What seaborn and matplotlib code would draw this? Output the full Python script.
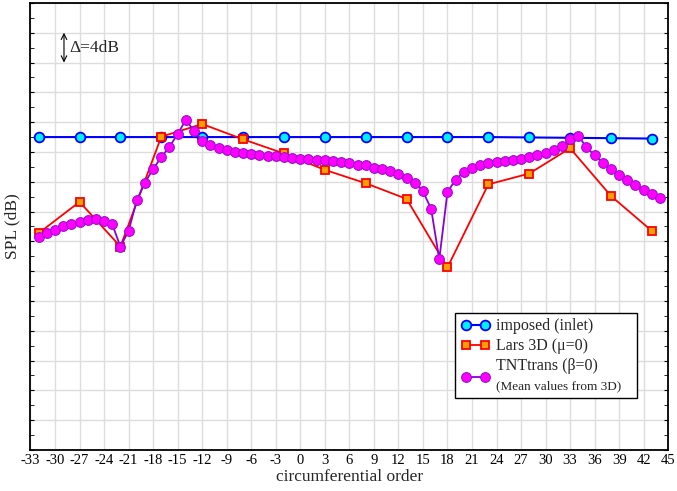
import numpy as np
import matplotlib
matplotlib.use("Agg")
import matplotlib.pyplot as plt
import seaborn as sns
from matplotlib.lines import Line2D
from matplotlib.legend_handler import HandlerLine2D

# circumferential orders and SPL values (dB)
imposed_x = [-32, -27, -22, -17, -12, -7, -2, 3, 8, 13, 18, 23, 28, 33, 38, 43]
imposed_y = [42.0, 42.0, 42.0, 42.0, 42.0, 42.0, 42.0, 42.0, 42.0, 42.0, 42.0,
             42.0, 41.95, 41.9, 41.85, 41.8]

lars_x = [-32, -27, -22, -17, -12, -7, -2, 3, 8, 13, 18, 23, 28, 33, 38, 43]
lars_y = [29.1, 33.3, 27.3, 42.05, 43.75, 41.7, 39.8, 37.6, 35.8, 33.7, 24.5,
          35.65, 37.1, 40.5, 34.1, 29.4]

tnt_x = list(range(-32, 45))
tnt_y = [28.6, 29.1, 29.5, 30.0, 30.3, 30.6, 30.9, 31.0, 30.8, 30.3,   # -32..-23
         27.3, 29.4, 33.5, 35.9, 37.7, 39.3, 40.7, 42.4, 44.3, 42.85,  # -22..-13
         41.5, 40.9, 40.5, 40.2, 39.95, 39.8, 39.7, 39.6, 39.5, 39.4,  # -12..-3
         39.3, 39.2, 39.1, 39.05, 38.95, 38.9, 38.75, 38.7, 38.5, 38.3,  # -2..7
         38.2, 37.9, 37.7, 37.45, 37.1, 36.55, 35.9, 34.7, 32.4, 25.6,  # 8..17
         34.6, 36.3, 37.3, 37.8, 38.25, 38.5, 38.6, 38.8, 38.95, 39.1,  # 18..27
         39.35, 39.55, 39.8, 40.2, 40.85, 41.7, 42.2, 40.6, 39.55, 38.55,  # 28..37
         37.7, 36.95, 36.2, 35.6, 34.9, 34.35, 33.8]  # 38..44

xticks = list(range(-33, 46, 3))


# legend handle pushed down so it sits between the two TNTtrans lines
class HandlerShift(HandlerLine2D):
    def create_artists(self, *args, **kwargs):
        arts = super().create_artists(*args, **kwargs)
        for a in arts:
            a.set_ydata(np.asarray(a.get_ydata(), dtype=float) - 8.5)
        return arts


sns.set_style("whitegrid")
plt.rcParams['font.family'] = ['Liberation Serif', 'DejaVu Serif']
plt.rcParams['axes.unicode_minus'] = False

fig = plt.figure(figsize=(6.77, 4.91), dpi=100)
ax = fig.add_axes([0.045, 0.0835, 0.942, 0.9105])

sns.lineplot(x=imposed_x, y=imposed_y, ax=ax, color='#0000ff', lw=1.5,
             marker='o', markersize=7, markerfacecolor='#00f0ff',
             markeredgecolor='#0000ff', markeredgewidth=1.3, zorder=3)
sns.lineplot(x=lars_x, y=lars_y, ax=ax, color='#ff0000', lw=1.3,
             marker='s', markersize=6, markerfacecolor='#ffa000',
             markeredgecolor='#ff0000', markeredgewidth=1.3, zorder=4)
sns.lineplot(x=tnt_x, y=tnt_y, ax=ax, color='#8a00d4', lw=1.3,
             marker='o', markersize=7, markerfacecolor='#ff00ff',
             markeredgecolor='#9a10d0', markeredgewidth=0.8, zorder=5)

ax.set_xlim(-33, 45)
ax.set_ylim(0, 60)
ax.set_xticks(xticks)
ax.set_yticks(np.arange(0, 61, 4))
ax.set_yticks(np.arange(0, 61, 2), minor=True)
ax.set_yticklabels([])
ax.grid(True, which='major', color='#dddddd', lw=1)
ax.grid(False, which='minor')
ax.tick_params(axis='x', direction='in', length=3, labelsize=10.5, pad=3,
               colors='black')
ax.tick_params(axis='y', which='both', direction='in', left=True, right=True,
               length=3, colors='black')
for s in ax.spines.values():
    s.set_color('black')
    s.set_linewidth(1.3)

ax.set_xlabel('circumferential order', fontsize=12.5, labelpad=1)
ax.set_ylabel('SPL (dB)', fontsize=12.5, labelpad=4)

# delta annotation
ax.annotate('', xy=(-28.9, 56), xytext=(-28.9, 52),
            arrowprops=dict(arrowstyle='<->', color='black', lw=0.8,
                            shrinkA=0, shrinkB=0))
ax.text(-28.3, 54, 'Δ=4dB', fontsize=12.5, va='center', ha='left')

h_imp = Line2D([], [], color='#0000ff', lw=1.5, marker='o', markersize=7,
               markerfacecolor='#00f0ff', markeredgecolor='#0000ff',
               markeredgewidth=1.3)
h_lars = Line2D([], [], color='#ff0000', lw=1.3, marker='s', markersize=6,
                markerfacecolor='#ffa000', markeredgecolor='#ff0000',
                markeredgewidth=1.3)
h_tnt = Line2D([], [], color='#8a00d4', lw=1.3, marker='o', markersize=7,
               markerfacecolor='#ff00ff', markeredgecolor='#9a10d0',
               markeredgewidth=0.8)
h_blank = Line2D([], [], linestyle='none', marker=None)

leg = ax.legend([h_imp, h_lars, h_tnt, h_blank],
                ['imposed (inlet)', 'Lars 3D (μ=0)', 'TNTtrans (β=0)',
                 '(Mean values from 3D)'],
                handler_map={h_tnt: HandlerShift(numpoints=2)},
                loc='lower left', bbox_to_anchor=(0.666, 0.116, 0.285, 0.19),
                mode='expand', numpoints=2, handlelength=1.8, fontsize=11.5,
                frameon=True, fancybox=False, framealpha=1,
                edgecolor='black', borderpad=0.35, labelspacing=0.25,
                handletextpad=0.4, borderaxespad=0)
leg.get_frame().set_linewidth(1.0)
leg.set_zorder(10)
leg.get_texts()[3].set_fontsize(9.5)

fig.savefig('out.png', dpi=100)
